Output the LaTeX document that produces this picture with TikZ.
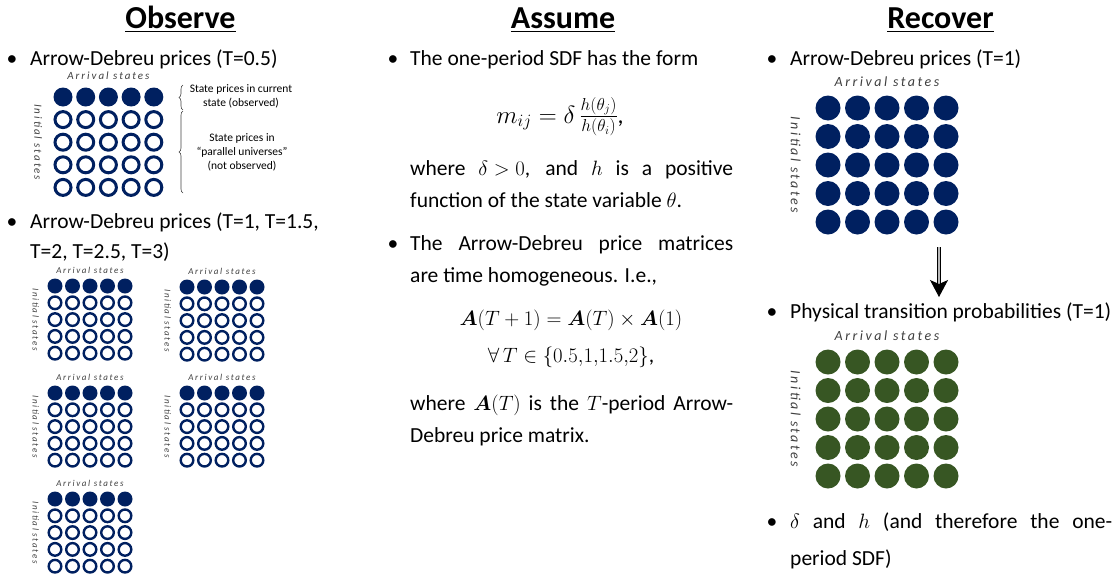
\documentclass[tikz,border=0pt]{standalone}
\usepackage{amsmath}
\usepackage{fontspec}
\setmainfont{Carlito}
\newfontfamily\AdAxisFont[LetterSpace=18]{Carlito}
\usetikzlibrary{arrows.meta,decorations.pathreplacing}

\definecolor{adNavy}{HTML}{002060}
\definecolor{adGreen}{HTML}{375623}
\definecolor{adAxisGray}{HTML}{3F3F3F}

\def\AdDotSmallSize{15pt}
\def\AdRingSmallSize{12.6pt}
\def\AdRingSmallLW{2.4pt}
\def\AdDotMidSize{19pt}
\def\AdRingMidSize{16pt}
\def\AdRingMidLW{3pt}
\def\AdDotBigSize{25pt}
\def\AdColWidth{323pt}
\newcommand{\ArrowDebreuSlideStyles}{%
  \tikzset{
    adhead/.style={anchor=base, font=\fontsize{32}{36}\selectfont\bfseries},
    adtext/.style={anchor=base west, inner sep=0pt, font=\fontsize{21.5}{30}\selectfont},
    admath/.style={anchor=base, inner sep=0pt, font=\fontsize{21.5}{30}\selectfont},
    adbullet/.style={anchor=base, inner sep=0pt, font=\fontsize{21.5}{30}\selectfont},
    adnote/.style={align=center, inner sep=0pt, font=\fontsize{11.5}{14}\selectfont},
    adaxis/.style={inner sep=0pt, text=adAxisGray},
    addot/.style={circle, inner sep=0pt, draw=none},
    adSmallFull/.style={addot, fill=adNavy, minimum size=\AdDotSmallSize},
    adSmallRing/.style={addot, draw=adNavy, fill=white,
      line width=\AdRingSmallLW, minimum size=\AdRingSmallSize},
    adMidFull/.style={addot, fill=adNavy, minimum size=\AdDotMidSize},
    adMidRing/.style={addot, draw=adNavy, fill=white,
      line width=\AdRingMidLW, minimum size=\AdRingMidSize},
    adBigNavy/.style={addot, fill=adNavy, minimum size=\AdDotBigSize},
    adBigGreen/.style={addot, fill=adGreen, minimum size=\AdDotBigSize},
    adbrace/.style={decorate, decoration={brace, amplitude=4pt},
      line width=0.6pt, black!75},
    adimplies/.style={
      double=gray!55, double distance=2.2pt, line width=0.9pt,
      -{Stealth[length=17pt, width=18pt, inset=4pt]}},
  }%
}
% #1 name, #2 x0, #3 y0, #4 dx, #5 dy, #6 top row, #7 other rows, #8 axis font size
\newcommand{\AdGrid}[8]{%
  \foreach \c in {1,...,5}{%
    \node[#6] (#1-1-\c) at ({#2+(\c-1)*#4},#3) {};
    \foreach \r in {2,...,5}
      \node[#7] (#1-\r-\c) at ({#2+(\c-1)*#4},{#3+(\r-1)*#5}) {};
  }%
  \node[adaxis, font={\AdAxisFont\itshape\fontsize{#8}{#8}\selectfont}]
    (#1-arr) at ({#2+2*#4},{#3-0.92*#5}) {Arrival states};
  \node[adaxis, font={\AdAxisFont\itshape\fontsize{#8}{#8}\selectfont}, rotate=-90]
    (#1-ini) at ({#2-1.1*#4},{#3+2*#5}) {Initial states};
}

\begin{document}
\begin{tikzpicture}[x=1pt, y=-1pt]
  \ArrowDebreuSlideStyles
  \useasboundingbox (0,0) rectangle (1118,576);

  % headings
  \node[adhead] (obsHead) at (180.5,28) {\underline{Observe}};
  \node[adhead] (asmHead) at (563,28) {\underline{Assume}};
  \node[adhead] (recHead) at (940.5,28) {\underline{Recover}};

  % observe column
  \node[adbullet] (obsBulA) at (12,65) {\textbullet};
  \node[adtext] (obsItemA) at (30,65) {Arrow-Debreu prices (T=0.5)};
  \AdGrid{obsHalf}{63}{97}{22.7}{22.6}{adMidFull}{adMidRing}{11}
  \coordinate (braceAtop) at (183,85);
  \coordinate (braceAbot) at (183,110);
  \coordinate (braceBtop) at (183,111);
  \coordinate (braceBbot) at (183,193);
  \draw[adbrace] (braceAbot) -- (braceAtop);
  \draw[adbrace] (braceBbot) -- (braceBtop);
  \node[adnote] (noteSeen) at (241,96) {State prices in current\\state (observed)};
  \node[adnote] (noteUnseen) at (242,152) {State prices in\\``parallel universes''\\(not observed)};

  \node[adbullet] (obsBulB) at (12,228) {\textbullet};
  \node[adtext] (obsItemB) at (30,228) {Arrow-Debreu prices (T=1, T=1.5,};
  \node[adtext] (obsItemC) at (30,258) {T=2, T=2.5, T=3)};
  \AdGrid{obsOne}{55}{286}{17.5}{16.8}{adSmallFull}{adSmallRing}{9}
  \AdGrid{obsOneHalf}{187}{287}{17.5}{16.8}{adSmallFull}{adSmallRing}{9}
  \AdGrid{obsTwo}{55}{393}{17.5}{16.8}{adSmallFull}{adSmallRing}{9}
  \AdGrid{obsTwoHalf}{187}{393}{17.5}{16.8}{adSmallFull}{adSmallRing}{9}
  \AdGrid{obsThree}{55}{499}{17.5}{16.8}{adSmallFull}{adSmallRing}{9}

  % assume column
  \node[adbullet] (asmBulA) at (393,65) {\textbullet};
  \node[adtext] (asmItemA) at (410,65) {The one-period SDF has the form};
  \node[admath, font=\fontsize{24}{30}\selectfont] (asmSdf) at (560,123)
    {$m_{ij}=\delta\,\frac{h(\theta_j)}{h(\theta_i)}$,};
  \node[adtext] (asmWhereA) at (410,175)
    {\makebox[\AdColWidth][s]{where \mbox{$\delta>0$}, and $h$ is a positive}};
  \node[adtext] (asmWhereB) at (410,207) {function of the state variable $\theta$.};
  \node[adbullet] (asmBulB) at (393,250) {\textbullet};
  \node[adtext] (asmItemB) at (410,250)
    {\makebox[\AdColWidth][s]{The Arrow-Debreu price matrices}};
  \node[adtext] (asmItemC) at (410,282) {are time homogeneous. I.e.,};
  \node[admath] (asmHomog) at (571,325)
    {$\boldsymbol{A}(T+1)=\boldsymbol{A}(T)\times\boldsymbol{A}(1)$};
  \node[admath] (asmForall) at (571,362) {$\forall\,T\in\{0.5{,}1{,}1.5{,}2\}$,};
  \node[adtext] (asmWhereC) at (410,410)
    {\makebox[\AdColWidth][s]{where \mbox{$\boldsymbol{A}(T)$} is the $T$-period Arrow-}};
  \node[adtext] (asmWhereD) at (410,442) {Debreu price matrix.};

  % recover column
  \node[adbullet] (recBulA) at (772,65) {\textbullet};
  \node[adtext] (recItemA) at (790,65) {Arrow-Debreu prices (T=1)};
  \AdGrid{recPrice}{828}{108}{29.5}{28.5}{adBigNavy}{adBigNavy}{14}
  \coordinate (recArrTop) at (939,247);
  \coordinate (recArrTip) at (939,297);
  \draw[adimplies] (recArrTop) -- (recArrTip);
  \node[adbullet] (recBulB) at (772,318) {\textbullet};
  \node[adtext] (recItemB) at (790,318) {Physical transition probabilities (T=1)};
  \AdGrid{recProb}{828}{362}{29.5}{28.5}{adBigGreen}{adBigGreen}{14}
  \node[adbullet] (recBulC) at (772,528) {\textbullet};
  \node[adtext] (recItemC) at (790,528)
    {\makebox[322pt][s]{$\delta$ and $h$ (and therefore the one-}};
  \node[adtext] (recItemD) at (790,565) {period SDF)};
\end{tikzpicture}
\end{document}
